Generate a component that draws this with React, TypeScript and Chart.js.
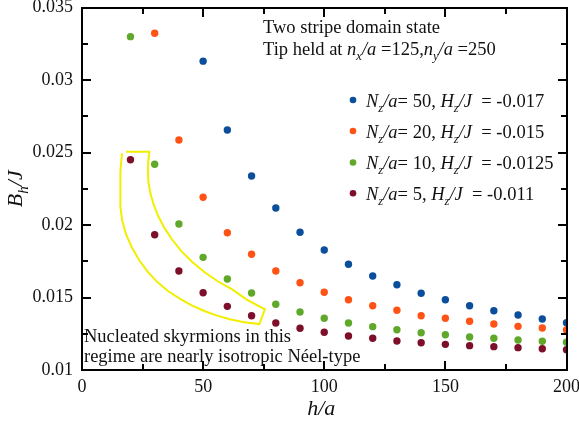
import React, { useEffect, useRef } from "react";
import { Chart, registerables } from "chart.js";

Chart.register(...registerables);

const xBlue = [50, 60, 70, 80, 90, 100, 110, 120, 130, 140, 150, 160, 170, 180, 190, 200];
const yBlue = [0.0313, 0.02655, 0.02338, 0.02117, 0.0195, 0.01828, 0.01729, 0.01648, 0.01588, 0.01529, 0.01485, 0.01443, 0.01409, 0.01379, 0.01352, 0.01326];

const xOrange = [30, 40, 50, 60, 70, 80, 90, 100, 110, 120, 130, 140, 150, 160, 170, 180, 190, 200];
const yOrange = [0.03322, 0.02586, 0.02191, 0.01947, 0.01798, 0.01683, 0.01602, 0.01536, 0.01485, 0.01443, 0.01412, 0.01374, 0.01357, 0.01336, 0.01317, 0.01301, 0.0129, 0.01276];

const xGreen = [20, 30, 40, 50, 60, 70, 80, 90, 100, 110, 120, 130, 140, 150, 160, 170, 180, 190, 200];
const yGreen = [0.03299, 0.02419, 0.02007, 0.01777, 0.01628, 0.01531, 0.01453, 0.014, 0.01357, 0.01324, 0.01299, 0.01278, 0.01257, 0.01243, 0.01228, 0.01219, 0.01207, 0.01198, 0.01191];

const xRed = [20, 30, 40, 50, 60, 70, 80, 90, 100, 110, 120, 130, 140, 150, 160, 170, 180, 190, 200];
const yRed = [0.0245, 0.01933, 0.01683, 0.01533, 0.01439, 0.01374, 0.01324, 0.01288, 0.0126, 0.01234, 0.01219, 0.012, 0.01188, 0.01177, 0.01168, 0.01161, 0.01154, 0.01147, 0.0114];

// yellow highlight band outline (data coordinates)
const bandX = [18.2, 27.8, 27.4, 27.2, 27.4, 28.2, 29.6, 31.5, 34.0, 37.2, 41.0, 45.5, 50.5, 56.0, 62.0, 68.0, 75.5, 73.2, 67.0, 61.0, 55.5, 50.5, 45.5, 40.5, 35.5, 31.0, 27.0, 23.5, 20.6, 18.2, 16.6, 15.8, 15.7, 16.0, 16.5];
const bandY = [0.02506, 0.02506, 0.02448, 0.02380, 0.02300, 0.02220, 0.02140, 0.02060, 0.01980, 0.01900, 0.01820, 0.01745, 0.01676, 0.01612, 0.01556, 0.01485, 0.01419, 0.01317, 0.01330, 0.01350, 0.01377, 0.01407, 0.01444, 0.01490, 0.01545, 0.01608, 0.01680, 0.01760, 0.01845, 0.01935, 0.02030, 0.02130, 0.02240, 0.02370, 0.02494];

const xTickLabels = ["0", "50", "100", "150", "200"];
const yTickLabels = ["0.01", "0.015", "0.02", "0.025", "0.03", "0.035"];
const xTickValues = [0, 25, 50, 75, 100, 125, 150, 175, 200];
const yTickValues = [0.01, 0.0125, 0.015, 0.0175, 0.02, 0.0225, 0.025, 0.0275, 0.03, 0.0325, 0.035];

const seriesColors = ["#0b4f9c", "#ff5316", "#5fa82a", "#7d0f2a"];
type Run = { t: string; i?: boolean; s?: boolean };
const legendRuns: Run[][] = [
  [{ t: "N", i: true }, { t: "z", i: true, s: true }, { t: "/a", i: true }, { t: "= 50, " }, { t: "H", i: true }, { t: "z", i: true, s: true }, { t: "/J", i: true }, { t: "  = -0.017" }],
  [{ t: "N", i: true }, { t: "z", i: true, s: true }, { t: "/a", i: true }, { t: "= 20, " }, { t: "H", i: true }, { t: "z", i: true, s: true }, { t: "/J", i: true }, { t: "  = -0.015" }],
  [{ t: "N", i: true }, { t: "z", i: true, s: true }, { t: "/a", i: true }, { t: "= 10, " }, { t: "H", i: true }, { t: "z", i: true, s: true }, { t: "/J", i: true }, { t: "  = -0.0125" }],
  [{ t: "N", i: true }, { t: "z", i: true, s: true }, { t: "/a", i: true }, { t: "= 5, " }, { t: "H", i: true }, { t: "z", i: true, s: true }, { t: "/J", i: true }, { t: "  = -0.011" }],
];

const FONT = "'Liberation Serif', 'Times New Roman', serif";
const TXT = 18.5;

function runWidth(ctx: CanvasRenderingContext2D, runs: Run[], size: number) {
  let w = 0;
  for (const r of runs) {
    const sz = r.s ? size * 0.68 : size;
    ctx.font = `${r.i ? "italic " : ""}${sz}px ${FONT}`;
    w += ctx.measureText(r.t).width;
  }
  return w;
}

function drawRuns(ctx: CanvasRenderingContext2D, x: number, y: number, runs: Run[], size: number) {
  ctx.textBaseline = "alphabetic";
  ctx.textAlign = "left";
  for (const r of runs) {
    const sz = r.s ? size * 0.68 : size;
    ctx.font = `${r.i ? "italic " : ""}${sz}px ${FONT}`;
    ctx.fillText(r.t, x, r.s ? y + size * 0.28 : y);
    x += ctx.measureText(r.t).width;
  }
}

const framePlugin = {
  id: "frame",
  afterDraw(chart: any) {
    const { ctx, chartArea: a, scales } = chart;
    const xs = scales.x;
    const ys = scales.y;
    const L = Math.round(a.left), R = Math.round(a.right), T = Math.round(a.top), B = Math.round(a.bottom);
    ctx.save();
    ctx.setLineDash([]);
    ctx.globalAlpha = 1;
    ctx.strokeStyle = "#000000";
    ctx.lineWidth = 2;
    ctx.lineCap = "square";
    ctx.beginPath();
    ctx.rect(L, T, R - L, B - T);
    ctx.stroke();
    ctx.lineCap = "butt";
    ctx.beginPath();
    xTickValues.forEach((v, k) => {
      const p = Math.round(xs.getPixelForValue(v));
      const len = k % 2 === 0 ? 9 : 6;
      ctx.moveTo(p, B);
      ctx.lineTo(p, B - len);
      ctx.moveTo(p, T);
      ctx.lineTo(p, T + len);
    });
    yTickValues.forEach((v, k) => {
      const p = Math.round(ys.getPixelForValue(v));
      const len = k % 2 === 0 ? 9 : 6;
      ctx.moveTo(L, p);
      ctx.lineTo(L + len, p);
      ctx.moveTo(R, p);
      ctx.lineTo(R - len, p);
    });
    ctx.stroke();
    ctx.restore();
  },
};

const textPlugin = {
  id: "texts",
  afterDraw(chart: any) {
    const { ctx, chartArea: a } = chart;
    ctx.save();
    ctx.fillStyle = "#111";
    drawRuns(ctx, 263, 33, [{ t: "Two stripe domain state" }], TXT);
    drawRuns(ctx, 263, 55, [
      { t: "Tip held at " }, { t: "n", i: true }, { t: "x", i: true, s: true }, { t: "/a", i: true }, { t: " =125," },
      { t: "n", i: true }, { t: "y", i: true, s: true }, { t: "/a", i: true }, { t: " =250" },
    ], TXT);

    const rowsY = [100, 131, 162.5, 193.3];
    for (let i = 0; i < 4; i++) {
      ctx.fillStyle = seriesColors[i];
      ctx.beginPath();
      ctx.arc(353, rowsY[i], 3.3, 0, Math.PI * 2);
      ctx.fill();
      ctx.fillStyle = "#111";
      drawRuns(ctx, 366, rowsY[i] + 6.5, legendRuns[i], TXT);
    }

    drawRuns(ctx, 84, 341.5, [{ t: "Nucleated skyrmions in this" }], TXT);
    drawRuns(ctx, 84, 361.5, [{ t: "regime are nearly isotropic Néel-type" }], TXT);

    const xr: Run[] = [{ t: "h/a", i: true }];
    const xw = runWidth(ctx, xr, 22);
    drawRuns(ctx, (a.left + a.right) / 2 - xw / 2 - 3, 415, xr, 22);

    const yr: Run[] = [{ t: "B", i: true }, { t: "h", i: true, s: true }, { t: "/J", i: true }];
    const yw = runWidth(ctx, yr, 22);
    ctx.translate(22, (a.top + a.bottom) / 2);
    ctx.rotate(-Math.PI / 2);
    drawRuns(ctx, -yw / 2, 0, yr, 22);
    ctx.restore();
  },
};

function pts(xs: number[], ys: number[]) {
  return xs.map((x, i) => ({ x, y: ys[i] }));
}

export default function App() {
  const ref = useRef<HTMLCanvasElement | null>(null);
  useEffect(() => {
    if (!ref.current) return;
    const mk = (label: string, xs: number[], ys: number[], c: string) => ({
      label,
      data: pts(xs, ys),
      backgroundColor: c,
      borderColor: c,
      pointRadius: 3.7,
      pointBorderWidth: 0,
      showLine: false,
    });
    const chart = new Chart(ref.current, {
      type: "scatter",
      data: {
        datasets: [
          mk("N50", xBlue, yBlue, seriesColors[0]),
          mk("N20", xOrange, yOrange, seriesColors[1]),
          mk("N10", xGreen, yGreen, seriesColors[2]),
          mk("N5", xRed, yRed, seriesColors[3]),
          {
            label: "band",
            data: pts(bandX, bandY),
            showLine: true,
            borderColor: "#f2ee00",
            backgroundColor: "transparent",
            borderWidth: 2,
            pointRadius: 0,
            tension: 0,
            fill: false,
          } as any,
        ],
      },
      options: {
        responsive: false,
        animation: false,
        layout: { padding: { left: 0, right: 12.5, top: 7.5, bottom: 0 } },
        plugins: { legend: { display: false }, tooltip: { enabled: false } },
        scales: {
          x: {
            type: "linear",
            min: 0,
            max: 200,
            grid: { display: false, drawTicks: false },
            border: { display: false },
            ticks: {
              stepSize: 50,
              padding: 6,
              color: "#111",
              maxRotation: 0,
              font: { family: FONT, size: 18 },
              callback: (_v: any, i: number) => xTickLabels[i],
            },
            afterFit: (s: any) => {
              s.height = 53;
              s.paddingLeft = 0;
              s.paddingRight = 0;
            },
          },
          y: {
            type: "linear",
            min: 0.01,
            max: 0.035,
            grid: { display: false, drawTicks: false },
            border: { display: false },
            ticks: {
              stepSize: 0.005,
              padding: 9,
              color: "#111",
              font: { family: FONT, size: 18 },
              callback: (_v: any, i: number) => yTickLabels[i],
            },
            afterFit: (s: any) => {
              s.width = 82;
              s.paddingTop = 0;
              s.paddingBottom = 0;
            },
          },
        },
      },
      plugins: [textPlugin, framePlugin],
    } as any);
    return () => chart.destroy();
  }, []);
  return (
    <div style={{ position: "absolute", left: 0, top: 0, width: 579, height: 423, background: "#fff" }}>
      <canvas ref={ref} width={579} height={423} />
    </div>
  );
}
